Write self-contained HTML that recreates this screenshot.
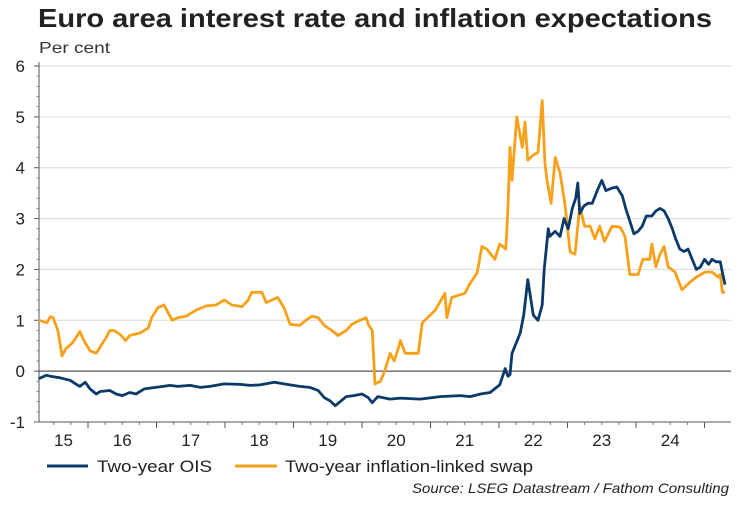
<!DOCTYPE html>
<html><head><meta charset="utf-8">
<style>
html,body{margin:0;padding:0;background:#fff;}
body{width:750px;height:500px;overflow:hidden;font-family:"Liberation Sans",Arial,sans-serif;}
</style></head>
<body>
<svg id="chart" width="750" height="500" viewBox="0 0 750 500" xmlns="http://www.w3.org/2000/svg" font-family="Liberation Sans, Arial, sans-serif">
<text x="38" y="27" font-size="26" font-weight="bold" fill="#222" textLength="674" lengthAdjust="spacingAndGlyphs">Euro area interest rate and inflation expectations</text>
<text x="39" y="53" font-size="16" fill="#333" textLength="71" lengthAdjust="spacingAndGlyphs">Per cent</text>
<g id="grid"></g>
<g id="axes"></g>
<g id="series"></g>
<g>
<line x1="47" y1="466" x2="88" y2="466" stroke="#0b3a68" stroke-width="3"/>
<text x="97" y="472" font-size="17" fill="#222" textLength="115" lengthAdjust="spacingAndGlyphs">Two-year OIS</text>
<line x1="235" y1="466" x2="277" y2="466" stroke="#f7a11a" stroke-width="3"/>
<text x="285" y="472" font-size="17" fill="#222" textLength="248" lengthAdjust="spacingAndGlyphs">Two-year inflation-linked swap</text>
</g>
<text x="412" y="493" font-size="14" font-style="italic" fill="#222" textLength="317" lengthAdjust="spacingAndGlyphs">Source: LSEG Datastream / Fathom Consulting</text>
</svg>
<script>
const yTicks=[-1,0,1,2,3,4,5,6];
const yearLabels=["15","16","17","18","19","20","21","22","23","24"];
const swapDates=[2015.28,2015.40,2015.45,2015.49,2015.56,2015.62,2015.68,2015.77,2015.82,2015.88,2015.94,2016.03,2016.12,2016.18,2016.26,2016.32,2016.38,2016.47,2016.55,2016.61,2016.76,2016.88,2016.93,2017.02,2017.11,2017.17,2017.23,2017.31,2017.43,2017.58,2017.72,2017.87,2017.99,2018.10,2018.25,2018.34,2018.39,2018.54,2018.60,2018.69,2018.77,2018.86,2018.95,2019.09,2019.18,2019.27,2019.36,2019.45,2019.56,2019.65,2019.77,2019.85,2019.97,2020.06,2020.10,2020.15,2020.19,2020.27,2020.33,2020.41,2020.47,2020.53,2020.56,2020.63,2020.82,2020.88,2021.07,2021.21,2021.24,2021.31,2021.50,2021.58,2021.68,2021.75,2021.82,2021.94,2022.01,2022.10,2022.13,2022.16,2022.19,2022.26,2022.34,2022.38,2022.42,2022.50,2022.57,2022.63,2022.67,2022.70,2022.76,2022.82,2022.89,2022.96,2023.04,2023.11,2023.18,2023.25,2023.33,2023.40,2023.47,2023.54,2023.65,2023.77,2023.84,2023.91,2024.03,2024.10,2024.20,2024.23,2024.29,2024.35,2024.41,2024.47,2024.57,2024.67,2024.79,2024.88,2025.01,2025.11,2025.20,2025.23,2025.26,2025.30];
const swapValues=[1.0,0.95,1.07,1.05,0.8,0.3,0.45,0.55,0.65,0.78,0.6,0.4,0.35,0.48,0.65,0.8,0.8,0.72,0.6,0.7,0.75,0.85,1.05,1.25,1.3,1.15,1.0,1.05,1.08,1.2,1.28,1.3,1.4,1.3,1.27,1.4,1.55,1.55,1.35,1.4,1.45,1.25,0.92,0.9,1.0,1.08,1.05,0.9,0.8,0.7,0.8,0.92,1.0,1.05,0.9,0.8,-0.25,-0.2,0.0,0.35,0.2,0.45,0.6,0.35,0.35,0.95,1.2,1.53,1.05,1.45,1.53,1.73,1.93,2.45,2.4,2.2,2.5,2.4,3.2,4.4,3.75,5.0,4.4,4.9,4.15,4.25,4.3,5.32,4.1,3.75,3.3,4.2,3.9,3.3,2.34,2.3,3.25,2.85,2.85,2.6,2.85,2.55,2.85,2.83,2.65,1.9,1.9,2.2,2.2,2.5,2.05,2.3,2.45,2.05,1.95,1.6,1.75,1.85,1.95,1.95,1.85,1.9,1.55,1.55];
const oisDates=[2015.28,2015.39,2015.45,2015.59,2015.74,2015.82,2015.88,2015.96,2016.03,2016.12,2016.18,2016.32,2016.41,2016.50,2016.61,2016.70,2016.82,2016.99,2017.20,2017.31,2017.49,2017.64,2017.78,2017.99,2018.22,2018.37,2018.51,2018.72,2018.95,2019.09,2019.24,2019.36,2019.45,2019.53,2019.61,2019.68,2019.77,2019.88,2020.00,2020.09,2020.15,2020.23,2020.41,2020.56,2020.85,2021.14,2021.43,2021.58,2021.73,2021.87,2022.01,2022.09,2022.13,2022.16,2022.19,2022.28,2022.31,2022.36,2022.42,2022.50,2022.57,2022.63,2022.66,2022.72,2022.74,2022.82,2022.89,2022.95,2023.01,2023.07,2023.12,2023.15,2023.18,2023.24,2023.30,2023.36,2023.45,2023.50,2023.56,2023.65,2023.72,2023.80,2023.85,2023.91,2023.97,2024.03,2024.09,2024.15,2024.23,2024.29,2024.35,2024.41,2024.47,2024.53,2024.58,2024.64,2024.70,2024.76,2024.82,2024.88,2024.94,2025.00,2025.06,2025.11,2025.17,2025.23,2025.26,2025.30];
const oisValues=[-0.15,-0.08,-0.1,-0.13,-0.18,-0.25,-0.3,-0.22,-0.35,-0.45,-0.4,-0.38,-0.45,-0.48,-0.42,-0.45,-0.35,-0.32,-0.28,-0.3,-0.28,-0.32,-0.3,-0.25,-0.26,-0.28,-0.27,-0.22,-0.27,-0.3,-0.32,-0.38,-0.52,-0.58,-0.68,-0.6,-0.5,-0.48,-0.45,-0.52,-0.62,-0.5,-0.55,-0.53,-0.55,-0.5,-0.48,-0.5,-0.45,-0.42,-0.27,0.05,-0.1,-0.07,0.35,0.65,0.75,1.1,1.8,1.1,1.0,1.3,2.0,2.8,2.65,2.75,2.65,3.0,2.8,3.2,3.4,3.7,3.1,3.25,3.3,3.3,3.6,3.75,3.55,3.6,3.62,3.45,3.2,2.95,2.7,2.75,2.85,3.05,3.05,3.15,3.2,3.15,3.0,2.8,2.6,2.4,2.35,2.4,2.2,2.0,2.05,2.2,2.1,2.2,2.15,2.15,1.95,1.7];

const NS='http://www.w3.org/2000/svg';
const L=39,R=731,T=66,B=422,yMin=-1,yMax=6;
const firstYear=2015, yearW=68.5, x0=19.5;
function xScale(t){return x0+(t-firstYear)*yearW;}
function yScale(v){return T+(yMax-v)/(yMax-yMin)*(B-T);}
function mk(tag,attrs,parent){const e=document.createElementNS(NS,tag);for(const k in attrs)e.setAttribute(k,attrs[k]);parent.appendChild(e);return e;}
const grid=document.getElementById('grid'),axes=document.getElementById('axes'),series=document.getElementById('series');
yTicks.forEach(v=>{
  const y=yScale(v);
  if(v>yMin){const g=mk('line',{x1:L,x2:R,y1:y,y2:y,stroke:v===0?'#555':'#d9d9d9','stroke-width':v===0?1.3:1},grid);
  
  }
  const t=mk('text',{x:25,y:y+6,'font-size':17,'text-anchor':'end',fill:'#222'},axes);
  t.textContent=String(v);
  
  
  mk('line',{x1:L-5,x2:L,y1:y,y2:y,stroke:'#555'},axes);
});
for(let v=yMin;v<yMax;v+=0.2){const y=yScale(v);mk('line',{x1:L-2.5,x2:L,y1:y,y2:y,stroke:'#777','stroke-width':0.8},axes);}
const ya=mk('line',{x1:L,x2:L,y1:T-4,y2:B,stroke:'#555'},axes);


const xa=mk('line',{x1:L,x2:R,y1:B,y2:B,stroke:'#555'},axes);


yearLabels.forEach((lab,i)=>{
  const yr=firstYear+i;
  const xs=Math.max(L,xScale(yr)),xe=xScale(yr+1);
  const t=mk('text',{x:(xs+xe)/2,y:446,'font-size':17,'text-anchor':'middle',fill:'#222'},axes);
  t.textContent=lab;
  
  
  if(xe<=R) mk('line',{x1:xe,x2:xe,y1:B,y2:B+6,stroke:'#555'},axes);
  for(let q=1;q<4;q++){const xq=xScale(yr+q/4);if(xq>L&&xq<R)mk('line',{x1:xq,x2:xq,y1:B,y2:B+3,stroke:'#777'},axes);}
});
function drawLine(dates,vals,color,name){
  const d=dates.map((t,i)=>(i?'L':'M')+xScale(t).toFixed(1)+','+yScale(vals[i]).toFixed(1)).join('');
  const p=mk('path',{d:d,fill:'none',stroke:color,'stroke-width':2.8,'stroke-linejoin':'round'},series);
  
  
}
drawLine(swapDates,swapValues,'#f7a11a','inflation-swap-line');
drawLine(oisDates,oisValues,'#0b3a68','ois-line');
</script>
</body></html>
